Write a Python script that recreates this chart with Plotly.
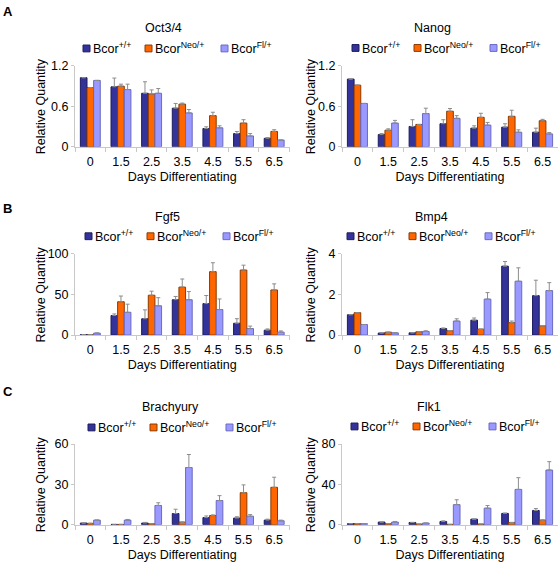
import plotly.graph_objects as go

# ---------------- data ----------------
DAYS = ["0", "1.5", "2.5", "3.5", "4.5", "5.5", "6.5"]
GENES = ["Oct3/4", "Nanog", "Fgf5", "Bmp4", "Brachyury", "Flk1"]
SERIES = ["Bcor<sup>+/+</sup>", "Bcor<sup>Neo/+</sup>", "Bcor<sup>Fl/+</sup>"]
PANEL_LETTERS = ["A", "B", "C"]

OCT4_WT = [1.02, 0.885, 0.79, 0.57, 0.27, 0.195, 0.125]
OCT4_WT_ERR = [None, 0.13, 0.17, 0.07, 0.025, 0.03, 0.012]
OCT4_NEO = [0.875, 0.895, 0.78, 0.63, 0.46, 0.35, 0.227]
OCT4_NEO_ERR = [None, 0.03, 0.06, 0.015, 0.05, 0.05, 0.025]
OCT4_FL = [0.98, 0.845, 0.79, 0.50, 0.28, 0.16, 0.10]
OCT4_FL_ERR = [None, 0.08, 0.07, 0.05, 0.03, 0.035, None]

NANOG_WT = [1.0, 0.18, 0.30, 0.34, 0.275, 0.29, 0.215]
NANOG_WT_ERR = [None, 0.015, 0.10, 0.06, 0.035, 0.05, 0.06]
NANOG_NEO = [0.91, 0.245, 0.33, 0.525, 0.435, 0.45, 0.385]
NANOG_NEO_ERR = [None, 0.02, None, 0.04, 0.06, 0.09, 0.02]
NANOG_FL = [0.64, 0.35, 0.49, 0.42, 0.32, 0.215, 0.19]
NANOG_FL_ERR = [None, 0.04, 0.08, 0.04, 0.04, 0.035, 0.02]

FGF5_WT = [0.5, 24, 20, 43.5, 38.7, 14.5, 6]
FGF5_WT_ERR = [None, 2, 11, 4, 10, 5.6, 1.5]
FGF5_NEO = [0.5, 41, 49, 59, 78, 80, 55.5]
FGF5_NEO_ERR = [None, 7, 5, 10, 11, 6, 7.5]
FGF5_FL = [2.4, 28, 36, 43.5, 31.4, 8, 3.6]
FGF5_FL_ERR = [None, 10, 10, 10, 13, 3, 1.5]

BMP4_WT = [1.0, 0.1, 0.11, 0.32, 0.73, 3.39, 1.94]
BMP4_WT_ERR = [None, None, None, 0.03, 0.11, 0.23, 0.76]
BMP4_NEO = [1.1, 0.14, 0.16, 0.21, 0.29, 0.61, 0.45]
BMP4_NEO_ERR = [None, None, None, None, None, 0.08, None]
BMP4_FL = [0.52, 0.11, 0.18, 0.69, 1.77, 2.65, 2.19]
BMP4_FL_ERR = [None, None, 0.03, 0.11, 0.32, 0.66, 0.39]

BRACH_WT = [1.2, 0.2, 1.2, 8.3, 5.3, 4.9, 3.4]
BRACH_WT_ERR = [None, None, 0.5, 3.2, 1.2, 1.0, 0.7]
BRACH_NEO = [1.0, 0.2, 0.7, 1.9, 6.8, 23.8, 27.8]
BRACH_NEO_ERR = [None, None, None, None, 0.5, 5.8, 7.5]
BRACH_FL = [3.4, 3.4, 14.3, 42.5, 18, 6.3, 2.9]
BRACH_FL_ERR = [None, 0.5, 2, 9.7, 3.6, 1.2, 0.5]

FLK1_WT = [1, 2.6, 2.2, 3.2, 5.5, 11.2, 14.1]
FLK1_WT_ERR = [None, None, None, 0.6, None, 0.3, 1.9]
FLK1_NEO = [1, 1, 0.6, 0.3, 0.6, 2.2, 4.5]
FLK1_NEO_ERR = [None, None, None, None, None, None, 0.3]
FLK1_FL = [1, 2.6, 1.6, 19.9, 16.4, 35, 54.2]
FLK1_FL_ERR = [None, 0.6, None, 4.8, 2.6, 11.6, 8.3]

Y_MAX = [1.2, 1.2, 100, 4, 60, 80]
Y_TICKS = [[0, 0.6, 1.2], [0, 0.6, 1.2], [0, 50, 100], [0, 2, 4], [0, 30, 60], [0, 40, 80]]
Y_TICKTEXT = [["0", "0.6", "1.2"], ["0", "0.6", "1.2"], ["0", "50", "100"],
              ["0", "2", "4"], ["0", "30", "60"], ["0", "40", "80"]]

PANEL_DATA = [
    [(OCT4_WT, OCT4_WT_ERR), (OCT4_NEO, OCT4_NEO_ERR), (OCT4_FL, OCT4_FL_ERR)],
    [(NANOG_WT, NANOG_WT_ERR), (NANOG_NEO, NANOG_NEO_ERR), (NANOG_FL, NANOG_FL_ERR)],
    [(FGF5_WT, FGF5_WT_ERR), (FGF5_NEO, FGF5_NEO_ERR), (FGF5_FL, FGF5_FL_ERR)],
    [(BMP4_WT, BMP4_WT_ERR), (BMP4_NEO, BMP4_NEO_ERR), (BMP4_FL, BMP4_FL_ERR)],
    [(BRACH_WT, BRACH_WT_ERR), (BRACH_NEO, BRACH_NEO_ERR), (BRACH_FL, BRACH_FL_ERR)],
    [(FLK1_WT, FLK1_WT_ERR), (FLK1_NEO, FLK1_NEO_ERR), (FLK1_FL, FLK1_FL_ERR)],
]

# ---------------- style / layout ----------------
W, H = 558, 571
FONT = "Liberation Sans, Arial, sans-serif"
FILL = ["#333399", "#FF6600", "#9999FF"]
EDGE = ["#1c1c5e", "#8a3a00", "#6a6ac0"]
AXCOL = "#c8c8c8"

COL_DOM = [(75, 289.5), (342, 558)]
ROW_DOM = [(60, 143.3), (253, 336.3), (448, 530.7)]
TITLE_POS = [(163, 22), (432, 22), (167, 215), (431, 215), (170, 410), (429, 410)]
LEG_POS = [(83, 42.5), (352, 42), (85, 235), (347, 235), (88, 431), (351, 430)]
LEG_OFF = [0, 62, 138]
YTITLE_X = [41, 311]
LETTER_Y = [4.5, 207, 394.5]


def px(x):
    return x / W


def py(y):
    return 1 - y / H


fig = go.Figure()
layout = dict(
    width=W, height=H, margin=dict(l=0, r=0, t=0, b=0),
    paper_bgcolor="white", plot_bgcolor="white",
    font=dict(family=FONT, size=12, color="#000"),
    barmode="group", bargap=0.35, bargroupgap=0.0,
    showlegend=False,
)
annotations = []
shapes = []

for i, gene in enumerate(GENES):
    row, col = divmod(i, 2)
    sfx = "" if i == 0 else str(i + 1)
    xa, ya = "x" + sfx, "y" + sfx
    for s, (vals, errs) in enumerate(PANEL_DATA[i]):
        fig.add_trace(go.Bar(
            x=DAYS, y=vals, name=SERIES[s], xaxis=xa, yaxis=ya,
            marker=dict(color=FILL[s], line=dict(color=EDGE[s], width=1)),
            error_y=dict(type="data", array=errs, symmetric=False,
                         arrayminus=[0] * len(errs), color="#8c8c8c",
                         thickness=1, width=2),
        ))
    x0, x1 = COL_DOM[col]
    y0, y1 = ROW_DOM[row]
    layout["xaxis" + sfx] = dict(
        domain=[px(x0), px(x1)], anchor=ya, type="category",
        showline=True, linecolor=AXCOL, linewidth=1,
        ticks="outside", tickson="boundaries", ticklen=4, tickcolor=AXCOL,
        ticklabelstandoff=3,
        showgrid=False, zeroline=False, tickfont=dict(size=12.5),
        title=dict(text="Days Differentiating", font=dict(size=12.5), standoff=4),
        fixedrange=True,
    )
    layout["yaxis" + sfx] = dict(
        domain=[py(y1), py(y0)], anchor=xa, range=[0, Y_MAX[i]],
        tickvals=Y_TICKS[i], ticktext=Y_TICKTEXT[i],
        showline=True, linecolor=AXCOL, linewidth=1,
        ticks="outside", ticklen=3, tickcolor=AXCOL,
        showgrid=False, zeroline=False, tickfont=dict(size=12.5),
        fixedrange=True,
    )
    # y axis title
    annotations.append(dict(
        text="Relative Quantity", x=px(YTITLE_X[col]), y=py((y0 + y1) / 2),
        xref="paper", yref="paper", textangle=-90, showarrow=False,
        xanchor="center", yanchor="middle", font=dict(size=12.5),
    ))
    # panel title
    tx, ty = TITLE_POS[i]
    annotations.append(dict(
        text=gene, x=px(tx), y=py(ty), xref="paper", yref="paper",
        showarrow=False, xanchor="center", yanchor="middle", font=dict(size=12.5),
    ))
    # legend
    lx, ly = LEG_POS[i]
    for s in range(3):
        sx = lx + LEG_OFF[s]
        shapes.append(dict(
            type="rect", xref="paper", yref="paper",
            x0=px(sx), x1=px(sx + 7), y0=py(ly + 3.5), y1=py(ly - 3.5),
            fillcolor=FILL[s], line=dict(color=EDGE[s], width=1),
        ))
        annotations.append(dict(
            text=SERIES[s], x=px(sx + 8), y=py(ly), xref="paper", yref="paper",
            showarrow=False, xanchor="left", yanchor="middle", font=dict(size=12.5),
        ))

for r, letter in enumerate(PANEL_LETTERS):
    annotations.append(dict(
        text="<b>%s</b>" % letter, x=px(1), y=py(LETTER_Y[r]), xref="paper", yref="paper",
        showarrow=False, xanchor="left", yanchor="middle", font=dict(size=13),
    ))

layout["annotations"] = annotations
layout["shapes"] = shapes
fig.update_layout(**layout)
fig.write_html(
    "out.html",
    config={"displayModeBar": False},
    post_script="document.body.style.margin='0';document.body.style.overflow='hidden';",
)
